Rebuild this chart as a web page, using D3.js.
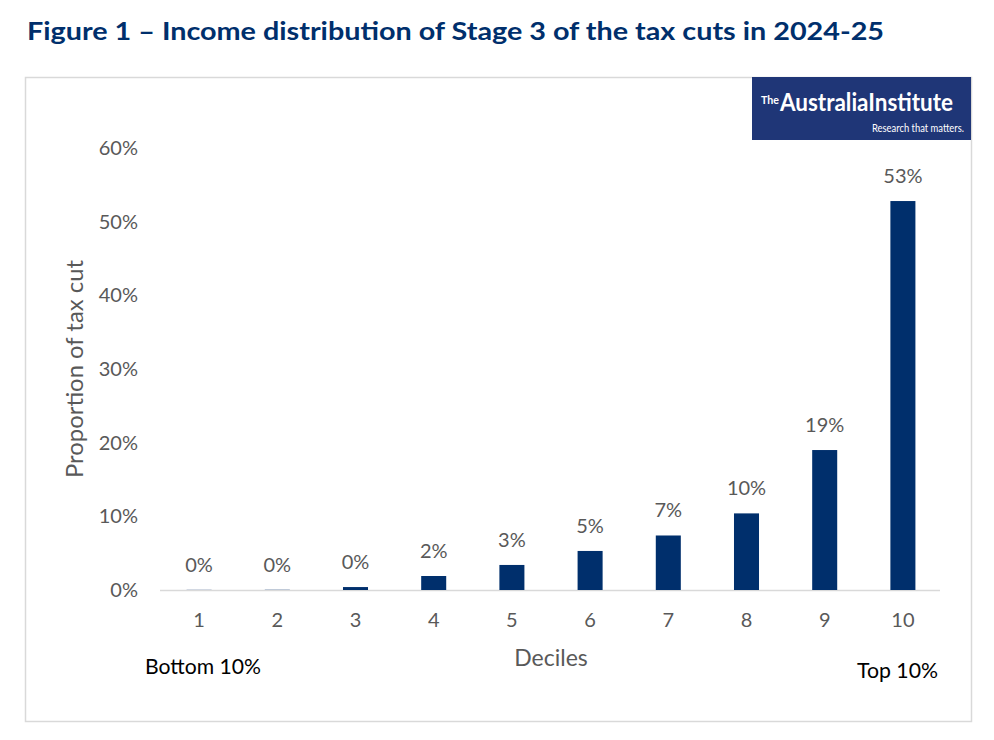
<!DOCTYPE html>
<html><head><meta charset="utf-8">
<script src="https://cdn.jsdelivr.net/npm/d3@7"></script>
<style>body{margin:0;background:#fff;}svg{display:block;font-family:Lato,"Open Sans",sans-serif;}</style>
</head><body>
<svg id="c" width="994" height="740"></svg>
<script>
const categories = ["1","2","3","4","5","6","7","8","9","10"];
const values = [0.0002, 0.0003, 0.004, 0.019, 0.034, 0.053, 0.074, 0.104, 0.190, 0.528];
const valueLabels = ["0%","0%","0%","2%","3%","5%","7%","10%","19%","53%"];
const yTicks = [0, 0.1, 0.2, 0.3, 0.4, 0.5, 0.6];

const svg = d3.select("#c");
const navy = "#002F6C";
const gray = "#595959";

svg.append("text").attr("x", 27).attr("y", 40).attr("fill", navy)
  .attr("font-size", 25).attr("font-weight", 700).attr("textLength", 857).attr("lengthAdjust","spacingAndGlyphs")
  .text("Figure 1 – Income distribution of Stage 3 of the tax cuts in 2024-25");

svg.append("rect").attr("x", 25.5).attr("y", 77.5).attr("width", 946).attr("height", 644)
  .attr("fill", "none").attr("stroke", "#d9d9d9").attr("stroke-width", 1.5);

// logo
const logo = svg.append("g");
logo.append("rect").attr("x", 752).attr("y", 77).attr("width", 219).attr("height", 63).attr("fill", "#1F3677");
logo.append("text").attr("x", 761).attr("y", 104).attr("fill", "#fff").attr("font-size", 12).attr("font-weight", 700)
  .attr("textLength", 18).attr("lengthAdjust","spacingAndGlyphs").text("The");
logo.append("text").attr("x", 780).attr("y", 111).attr("fill", "#fff").attr("font-size", 24).attr("font-weight", 700)
  .attr("textLength", 173).attr("lengthAdjust","spacingAndGlyphs").text("AustraliaInstitute");
logo.append("text").attr("x", 964).attr("y", 132).attr("fill", "#fff").attr("font-size", 11)
  .attr("text-anchor","end").attr("textLength", 92).attr("lengthAdjust","spacingAndGlyphs").text("Research that matters.");

const x = d3.scaleBand().domain(categories).range([160, 942]).paddingInner(0.68).paddingOuter(0.34);
const y = d3.scaleLinear().domain([0, 0.6]).range([590, 148]);

// y axis labels
const yAxis = d3.axisLeft(y).tickValues(yTicks).tickFormat(d3.format(".0%")).tickSize(0).tickPadding(0);
const ya = svg.append("g").attr("transform", "translate(138,0)").call(yAxis);
ya.select(".domain").remove();
ya.selectAll("text").attr("fill", gray).attr("font-size", 20).attr("font-family","Lato,sans-serif");

// baseline
svg.append("line").attr("x1", 160).attr("x2", 940).attr("y1", y(0)+0.5).attr("y2", y(0)+0.5)
  .attr("stroke", "#d9d9d9").attr("stroke-width", 1.5);

// bars
svg.append("g").selectAll("rect").data(values).join("rect")
  .attr("x", (d,i) => x(categories[i])).attr("width", x.bandwidth())
  .attr("y", d => y(d)).attr("height", d => y(0) - y(d)).attr("fill", navy);

// value labels
svg.append("g").selectAll("text").data(values).join("text")
  .attr("x", (d,i) => x(categories[i]) + x.bandwidth()/2).attr("y", d => y(d) - 18)
  .attr("text-anchor", "middle").attr("fill", gray).attr("font-size", 20)
  .text((d,i) => valueLabels[i]);

// x axis
const xAxis = d3.axisBottom(x).tickSize(0).tickPadding(0);
const xa = svg.append("g").attr("transform", "translate(0,612)").call(xAxis);
xa.select(".domain").remove();
xa.selectAll("text").attr("fill", gray).attr("font-size", 20).attr("font-family","Lato,sans-serif").attr("dy","0.75em");

svg.append("text").attr("x", 551).attr("y", 666).attr("text-anchor","middle").attr("fill", gray)
  .attr("font-size", 23).text("Deciles");
svg.append("text").attr("transform", "translate(83,369) rotate(-90)").attr("text-anchor","middle")
  .attr("fill", gray).attr("font-size", 23).attr("textLength", 218).attr("lengthAdjust","spacingAndGlyphs")
  .text("Proportion of tax cut");

svg.append("text").attr("x", 145).attr("y", 674).attr("fill", "#000").attr("font-size", 21)
  .attr("textLength", 116).attr("lengthAdjust","spacingAndGlyphs").text("Bottom 10%");
svg.append("text").attr("x", 938).attr("y", 678).attr("text-anchor","end").attr("fill", "#000").attr("font-size", 21)
  .attr("textLength", 81).attr("lengthAdjust","spacingAndGlyphs").text("Top 10%");
</script>
</body></html>
